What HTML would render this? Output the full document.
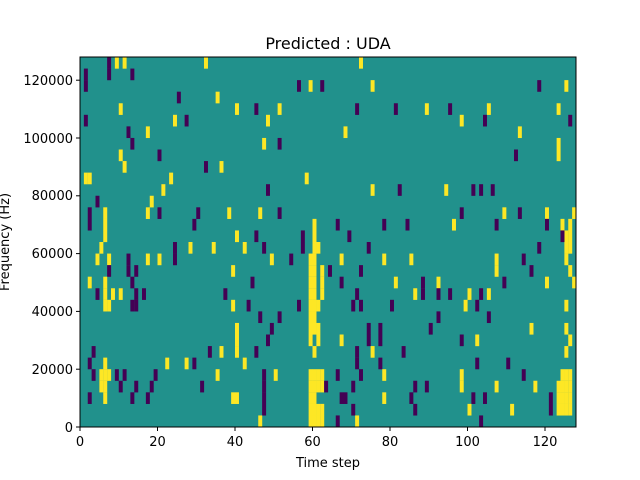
<!DOCTYPE html><html><head><meta charset="utf-8"><style>body{margin:0;background:#fff}svg{display:block}text{font-family:"DejaVu Sans","Liberation Sans",sans-serif;fill:#000}</style></head><body>
<svg id="s" width="640" height="480" xmlns="http://www.w3.org/2000/svg">
<rect x="80" y="57" width="496" height="370" fill="#21918c"/>
<g id="cells"></g>
<rect x="80" y="57" width="496" height="370" fill="none" stroke="#000" stroke-width="1"/>
<g font-size="13" text-anchor="middle">
<text x="80" y="446">0</text><text x="157.5" y="446">20</text><text x="235" y="446">40</text><text x="312.5" y="446">60</text><text x="390" y="446">80</text><text x="467.5" y="446">100</text><text x="545" y="446">120</text>
<text x="328" y="467">Time step</text>
</g>
<g font-size="13" text-anchor="end">
<text x="73" y="432">0</text><text x="73" y="374">20000</text><text x="73" y="316">40000</text><text x="73" y="258">60000</text><text x="73" y="200">80000</text><text x="73" y="143">100000</text><text x="73" y="85">120000</text>
</g>
<g stroke="#000"><line x1="80" y1="427" x2="80" y2="431"/><line x1="157.5" y1="427" x2="157.5" y2="431"/><line x1="235" y1="427" x2="235" y2="431"/><line x1="312.5" y1="427" x2="312.5" y2="431"/><line x1="390" y1="427" x2="390" y2="431"/><line x1="467.5" y1="427" x2="467.5" y2="431"/><line x1="545" y1="427" x2="545" y2="431"/>
<line x1="76" y1="427" x2="80" y2="427"/><line x1="76" y1="369.2" x2="80" y2="369.2"/><line x1="76" y1="311.4" x2="80" y2="311.4"/><line x1="76" y1="253.6" x2="80" y2="253.6"/><line x1="76" y1="195.8" x2="80" y2="195.8"/><line x1="76" y1="138" x2="80" y2="138"/><line x1="76" y1="80.2" x2="80" y2="80.2"/></g>
<text x="9" y="242" font-size="13" text-anchor="middle" transform="rotate(-90 9 242)">Frequency (Hz)</text>
<text x="328" y="49" font-size="16" text-anchor="middle">Predicted : UDA</text>
</svg>
<script>
var D={0:"y116 p108 y124 y205 y360",1:"p108 p132 p84",2:"p84 p300 y312 p324 y372 p540 y568",3:"p178 y216",4:"y120 y236 p256 y280 p356 p395 y426 p450 y488 y560",5:"p84 y174 p186 y268 y461 p484 p572",6:"p128 y148 y344 y520",7:"p132 y264 p280 y560",8:"y120 p158 y560 p516",9:"y124 p205 y220",10:"y84 y88 y170 y306",11:"y162 p268 y372 p400 y445 p472 p480 p492",12:"y150 p96",13:"p90 y104 y146 p160 p197 y228 p280 y260 p460 y504 p520 y548 y574",14:"p88 y104 p196 y314 p338 p384 p408 y454 p496 p546 y562 y572",15:"y104 y236 p256 p304 y316 p348 y566 p564 y570",16:"y100 p176 y190 y212 y244 p264 p304 y314 y318 p368 p540 y566 y570",17:"y96 y108 p128 y146 y158 p176 y272 p292 y310 y314 y340 y384 y412 y496 p524 y566",18:"p108 p128 p136 y234 y310 y314 p330 y322 p362 y496 p532 y572",19:"y88 y104 p132 p252 y310 y314 y322 p340 y394 p424 y438 p506 y548 y574",20:"y104 p96 y112 p138 y120 p144 p226 p356 y310 y314 y322 y414 p422 p438 y470 p480 y488 p450",21:"y106 y110 p132 p138 y234 p250 p300 y310 y314 y318 p352 p362 p390 y466 p476 y568",22:"p260 p280 y310 y314 p440 p488",23:"y236 p270 y312 y316 y320 p370 p380 p430 y530 y566",24:"y236 p268 y312 y318 y340 p370 p380 p460 y476 y570",25:"p92 p210 y220 y236 p256 y314 p356 y374 p402 y568",26:"p88 y104 y166 y188 p194 y246 p358 p380 p478 p508",27:"p92 y100 y104 y108 p116 p124 p154 y218 p264 y276 y310 y314 y318 y322 p336 p362 y384 y462 p524 y562 y566 y570",28:"y100 y104 p120 p138 p150 p202 p264 y310 y314 y318 y322 p326 p354 p414 p426 y462 y496 y536 y560 y564 y568 y572",29:"p88 y104 p132 p148 y232 y236 p264 y310 y314 p342 p346 y384 p412 p472 p486 p550 y560 y564 y568 y572",30:"p264 y310 y314 y318 y322 p352 p414 y468 y512 p550 y560 y564 y568 y572",31:"y260 y310 y314 y318 y322 p338 y356 p480"};
var g=document.getElementById("cells"),h="",cw=3.875,rh=370/32;
for(var r in D){D[r].split(" ").forEach(function(t){var c=Math.floor((+t.slice(1)-80)/cw);if(c>127)c=127;h+='<rect x="'+(80+c*cw)+'" y="'+(57+r*rh)+'" width="'+(cw+0.1)+'" height="'+(rh+0.1)+'" fill="'+(t[0]=="y"?"#fde725":"#440154")+'"/>';});}
g.innerHTML=h;
</script>
</body></html>
